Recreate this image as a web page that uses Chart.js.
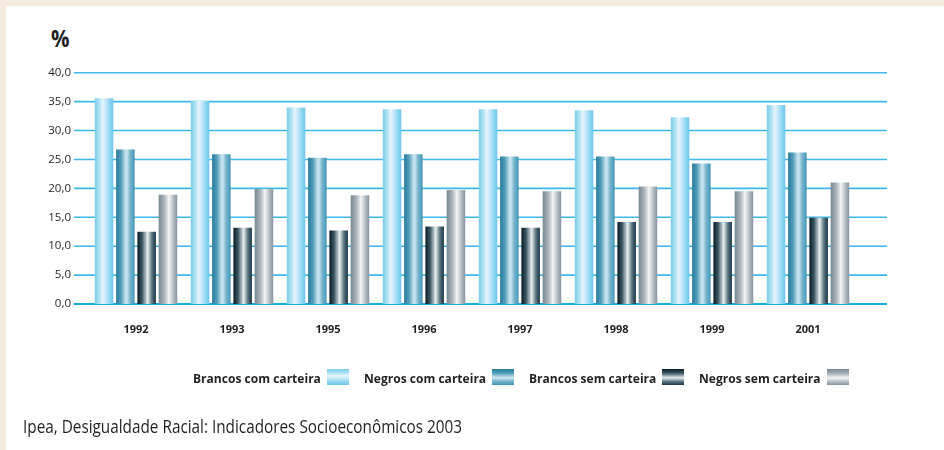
<!DOCTYPE html>
<html lang="pt-BR">
<head>
<meta charset="utf-8">
<title>Trabalhadores com e sem carteira</title>
<script src="https://cdn.jsdelivr.net/npm/chart.js@4.4.1/dist/chart.umd.min.js"></script>
<style>
  html, body { margin: 0; padding: 0; }
  body {
    width: 944px; height: 450px; position: relative; overflow: hidden;
    background: #f5ebe0; font-family: 'Open Sans', 'Noto Sans', sans-serif; color: #231f20;
  }
  #panel { position: absolute; left: 6px; top: 6px; right: 0; bottom: 0; background: #fff; }
  #chart { position: absolute; left: 0; top: 0; }
  .squeeze { position: absolute; white-space: nowrap; transform-origin: 0 50%; }
  #unit { left: 51px; top: 26px; font-size: 24px; font-weight: 700; line-height: 1; }
  #source { left: 23px; top: 417px; font-size: 18px; line-height: 1; }
  #legend { position: absolute; left: 193px; top: 369px; height: 16px; display: flex; align-items: center; }
  .item { display: flex; align-items: center; margin-right: 15px; }
  .item:last-child { margin-right: 0; }
  .label { display: inline-block; overflow: visible; white-space: nowrap; }
  .label span { display: inline-block; font-size: 12.5px; font-weight: 700; transform-origin: 0 50%; }
  .swatch { width: 22px; height: 16px; margin-left: 6px; }
</style>
</head>
<body>
<div id="panel"></div>
<div id="unit" class="squeeze">%</div>
<canvas id="chart" width="944" height="450"></canvas>
<div id="legend"></div>
<div id="source" class="squeeze">Ipea, Desigualdade Racial: Indicadores Socioeconômicos 2003</div>

<script>
// Anos pesquisados
const years = ['1992', '1993', '1995', '1996', '1997', '1998', '1999', '2001'];

// Percentuais por grupo
const brancosComCarteira = [35.6, 35.1, 34.0, 33.7, 33.7, 33.5, 32.3, 34.4];
const negrosComCarteira  = [26.7, 25.9, 25.3, 25.9, 25.5, 25.5, 24.3, 26.2];
const brancosSemCarteira = [12.5, 13.2, 12.7, 13.4, 13.2, 14.2, 14.2, 14.9];
const negrosSemCarteira  = [18.9, 19.9, 18.8, 19.7, 19.5, 20.3, 19.5, 21.0];

const seriesNames = ['Brancos com carteira', 'Negros com carteira', 'Brancos sem carteira', 'Negros sem carteira'];
const seriesValues = [brancosComCarteira, negrosComCarteira, brancosSemCarteira, negrosSemCarteira];

// Eixo vertical
const yMin = 0, yMax = 40, yStep = 5;

// Cylinder-like shading for each series (offset, colour)
const shading = [
  [[0, '#7ccdee'], [0.22, '#a8def4'], [0.42, '#e6f6fd'], [0.6, '#c2e8f7'], [0.85, '#86d1f0'], [1, '#6fc7ec']],
  [[0, '#2a7c9c'], [0.25, '#4f9bba'], [0.55, '#d3eaf3'], [0.75, '#7cb8d0'], [1, '#3f94b6']],
  [[0, '#0b1d26'], [0.25, '#3a5564'], [0.55, '#e7eef1'], [0.78, '#5d7784'], [1, '#173341']],
  [[0, '#788791'], [0.3, '#a8b3ba'], [0.55, '#f4f6f7'], [0.8, '#b2bcc3'], [1, '#85939e']]
];

const CATEGORY_PCT = 0.8875;
const BAR_PCT = 0.87;

function shadedFill(seriesIndex) {
  const stops = shading[seriesIndex];
  return (ctx) => {
    const chart = ctx.chart;
    const xs = chart.scales && chart.scales.x;
    if (ctx.type !== 'data' || !xs || !chart.chartArea) return stops[2][1];
    const count = seriesValues.length;
    const band = (xs.right - xs.left) / years.length;
    const slot = band * CATEGORY_PCT / count;
    const cx = xs.getPixelForValue(ctx.dataIndex) + (ctx.datasetIndex - (count - 1) / 2) * slot;
    const half = slot * BAR_PCT / 2;
    const g = chart.ctx.createLinearGradient(cx - half, 0, cx + half, 0);
    stops.forEach(([o, c]) => g.addColorStop(o, c));
    return g;
  };
}

// Horizontal rules run a little wider than the bar area
const ruleLines = {
  id: 'ruleLines',
  beforeDatasetsDraw(chart) {
    const ys = chart.scales.y;
    const c = chart.ctx;
    c.save();
    ys.ticks.forEach((t) => {
      const y = ys.getPixelForValue(t.value);
      c.beginPath();
      c.lineWidth = t.value === 0 ? 2 : 1.6;
      c.strokeStyle = t.value === 0 ? '#1ba9e1' : '#3cb8ea';
      c.moveTo(74, y);
      c.lineTo(887, y);
      c.stroke();
    });
    c.restore();
  }
};

const chart = new Chart(document.getElementById('chart'), {
  type: 'bar',
  data: {
    labels: years,
    datasets: seriesNames.map((name, i) => ({
      label: name,
      data: seriesValues[i],
      backgroundColor: shadedFill(i),
      borderWidth: 0,
      categoryPercentage: CATEGORY_PCT,
      barPercentage: BAR_PCT
    }))
  },
  options: {
    responsive: false,
    animation: false,
    devicePixelRatio: 1,
    layout: { padding: { left: 0, right: 88, top: 72.7, bottom: 114 } },
    plugins: { legend: { display: false }, tooltip: { enabled: false } },
    scales: {
      x: {
        grid: { display: false, drawTicks: false },
        border: { display: false },
        ticks: { padding: 19, color: '#231f20', font: { family: "'Open Sans', sans-serif", size: 11, weight: 'bold' } },
        afterFit(s) { s.height = 32; }
      },
      y: {
        min: yMin, max: yMax,
        grid: { display: false, drawTicks: false },
        border: { display: false },
        ticks: {
          stepSize: yStep, padding: 17, color: '#231f20',
          font: { family: "'Open Sans', sans-serif", size: 11.5 },
          callback: (v) => v.toFixed(1).replace('.', ',')
        },
        afterFit(s) { s.width = 88; }
      }
    }
  },
  plugins: [ruleLines]
});

// Legend: label first, swatch after it
const legend = document.getElementById('legend');
const labelSpans = [];
seriesNames.forEach((name, i) => {
  const item = document.createElement('div');
  item.className = 'item';
  const label = document.createElement('span');
  label.className = 'label';
  const inner = document.createElement('span');
  inner.textContent = name;
  label.appendChild(inner);
  const sw = document.createElement('div');
  sw.className = 'swatch';
  sw.style.background = 'linear-gradient(to bottom, ' + shading[i].map(([o, c]) => c + ' ' + (o * 100) + '%').join(', ') + ')';
  item.appendChild(label);
  item.appendChild(sw);
  legend.appendChild(item);
  labelSpans.push([label, inner]);
});

// Narrow the lettering to the condensed width of the original typeface
function squeezeTo(el, width) {
  el.style.transform = '';
  const w = el.getBoundingClientRect().width;
  el.style.transform = 'scaleX(' + (width / w) + ')';
}
function layoutText() {
  squeezeTo(document.getElementById('source'), 439);
  squeezeTo(document.getElementById('unit'), 18.5);
  const natural = labelSpans.map(([, inner]) => { inner.style.transform = ''; return inner.getBoundingClientRect().width; });
  const total = natural.reduce((a, b) => a + b, 0);
  const k = (656 - seriesNames.length * 28 - (seriesNames.length - 1) * 15) / total;
  labelSpans.forEach(([label, inner], i) => {
    label.style.width = (natural[i] * k) + 'px';
    inner.style.transform = 'scaleX(' + k + ')';
  });
}
layoutText();
if (document.fonts && document.fonts.ready) document.fonts.ready.then(layoutText);
</script>
</body>
</html>
